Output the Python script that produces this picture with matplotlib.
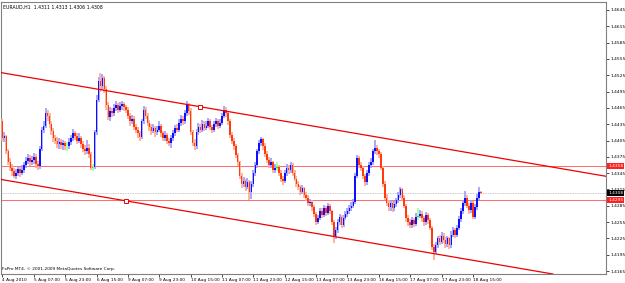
import matplotlib
matplotlib.use("Agg")
import matplotlib.pyplot as plt
import matplotlib.transforms as mtransforms
import numpy as np

# ---------------- data (EURAUD H1) ----------------
first_open = 1.4440
closes = [
    1.4410, 1.4413, 1.4385, 1.4365, 1.4355, 1.4348, 1.4340, 1.4345, 1.4352, 1.4346,
    1.4350, 1.4360, 1.4368, 1.4372, 1.4365, 1.4370, 1.4375, 1.4362, 1.4358, 1.4390,
    1.4425, 1.4432, 1.4455, 1.4450, 1.4435, 1.4422, 1.4410, 1.4405, 1.4398, 1.4402,
    1.4396, 1.4400, 1.4394, 1.4395, 1.4402, 1.4410, 1.4418, 1.4413, 1.4405, 1.4410,
    1.4398, 1.4390, 1.4385, 1.4392, 1.4380, 1.4355, 1.4356, 1.4420, 1.4480, 1.4515,
    1.4505, 1.4520, 1.4500, 1.4470, 1.4448, 1.4460, 1.4455, 1.4465, 1.4470, 1.4462,
    1.4468, 1.4472, 1.4466, 1.4462, 1.4450, 1.4440, 1.4445, 1.4430, 1.4425, 1.4418,
    1.4412, 1.4440, 1.4462, 1.4450, 1.4438, 1.4430, 1.4422, 1.4428, 1.4420, 1.4425,
    1.4432, 1.4418, 1.4410, 1.4415, 1.4405, 1.4400, 1.4410, 1.4418, 1.4428, 1.4425,
    1.4438, 1.4445, 1.4440, 1.4455, 1.4470, 1.4460, 1.4420, 1.4400, 1.4395, 1.4420,
    1.4430, 1.4425, 1.4436, 1.4428, 1.4432, 1.4440, 1.4430, 1.4425, 1.4435, 1.4440,
    1.4432, 1.4438, 1.4450, 1.4462, 1.4455, 1.4440, 1.4415, 1.4405, 1.4395, 1.4378,
    1.4365, 1.4340, 1.4325, 1.4330, 1.4320, 1.4328, 1.4310, 1.4325, 1.4345, 1.4360,
    1.4385, 1.4400, 1.4408, 1.4395, 1.4380, 1.4370, 1.4360, 1.4365, 1.4350, 1.4355,
    1.4356, 1.4345, 1.4335, 1.4330, 1.4345, 1.4355, 1.4350, 1.4360, 1.4345, 1.4335,
    1.4325, 1.4320, 1.4310, 1.4318, 1.4305, 1.4300, 1.4290, 1.4292, 1.4282, 1.4270,
    1.4255, 1.4262, 1.4275, 1.4268, 1.4280, 1.4272, 1.4285, 1.4275, 1.4255, 1.4230,
    1.4240, 1.4255, 1.4265, 1.4250, 1.4262, 1.4270, 1.4275, 1.4280, 1.4285, 1.4292,
    1.4340, 1.4372, 1.4360, 1.4355, 1.4340, 1.4328, 1.4345, 1.4360, 1.4365, 1.4385,
    1.4392, 1.4385, 1.4380, 1.4355, 1.4325, 1.4300, 1.4290, 1.4282, 1.4290, 1.4280,
    1.4288, 1.4295, 1.4305, 1.4315, 1.4300, 1.4285, 1.4262, 1.4255, 1.4250, 1.4258,
    1.4252, 1.4265, 1.4266, 1.4270, 1.4262, 1.4255, 1.4268, 1.4258, 1.4245, 1.4210,
    1.4200, 1.4212, 1.4225, 1.4218, 1.4230, 1.4222, 1.4215, 1.4225, 1.4212, 1.4232,
    1.4240, 1.4232, 1.4245, 1.4260, 1.4275, 1.4290, 1.4300, 1.4285, 1.4278, 1.4290,
    1.4265, 1.4282, 1.4300, 1.4311, 1.4308,
]
highs = [
    1.4445, 1.4420, 1.4416, 1.4390, 1.4372, 1.4362, 1.4355, 1.4352, 1.4358, 1.4356,
    1.4360, 1.4366, 1.4375, 1.4380, 1.4378, 1.4376, 1.4382, 1.4380, 1.4368, 1.4395,
    1.4430, 1.4440, 1.4465, 1.4462, 1.4455, 1.4440, 1.4428, 1.4415, 1.4412, 1.4410,
    1.4408, 1.4406, 1.4405, 1.4402, 1.4410, 1.4416, 1.4426, 1.4422, 1.4418, 1.4418,
    1.4414, 1.4404, 1.4396, 1.4406, 1.4398, 1.4384, 1.4362, 1.4425, 1.4488, 1.4522,
    1.4530, 1.4528, 1.4524, 1.4505, 1.4475, 1.4466, 1.4465, 1.4472, 1.4478, 1.4474,
    1.4475, 1.4478, 1.4476, 1.4470, 1.4466, 1.4455, 1.4452, 1.4450, 1.4436, 1.4430,
    1.4422, 1.4445, 1.4468, 1.4466, 1.4455, 1.4442, 1.4435, 1.4436, 1.4432, 1.4432,
    1.4440, 1.4436, 1.4422, 1.4422, 1.4418, 1.4410, 1.4415, 1.4424, 1.4434, 1.4435,
    1.4444, 1.4452, 1.4450, 1.4462, 1.4478, 1.4474, 1.4464, 1.4425, 1.4408, 1.4426,
    1.4438, 1.4436, 1.4442, 1.4440, 1.4440, 1.4446, 1.4444, 1.4434, 1.4440, 1.4446,
    1.4444, 1.4444, 1.4456, 1.4468, 1.4466, 1.4458, 1.4444, 1.4420, 1.4410, 1.4398,
    1.4382, 1.4368, 1.4345, 1.4338, 1.4335, 1.4336, 1.4332, 1.4330, 1.4350, 1.4366,
    1.4390, 1.4406, 1.4412, 1.4410, 1.4400, 1.4386, 1.4375, 1.4372, 1.4368, 1.4362,
    1.4365, 1.4360, 1.4350, 1.4340, 1.4350, 1.4362, 1.4360, 1.4366, 1.4364, 1.4350,
    1.4340, 1.4330, 1.4324, 1.4324, 1.4320, 1.4310, 1.4304, 1.4298, 1.4296, 1.4286,
    1.4274, 1.4268, 1.4280, 1.4280, 1.4286, 1.4284, 1.4290, 1.4288, 1.4278, 1.4258,
    1.4246, 1.4260, 1.4270, 1.4268, 1.4268, 1.4276, 1.4280, 1.4286, 1.4292, 1.4298,
    1.4345, 1.4378, 1.4376, 1.4365, 1.4358, 1.4344, 1.4350, 1.4366, 1.4372, 1.4390,
    1.4406, 1.4396, 1.4390, 1.4384, 1.4358, 1.4330, 1.4306, 1.4296, 1.4296, 1.4294,
    1.4294, 1.4300, 1.4310, 1.4320, 1.4318, 1.4304, 1.4288, 1.4268, 1.4260, 1.4264,
    1.4262, 1.4272, 1.4280, 1.4278, 1.4275, 1.4266, 1.4274, 1.4272, 1.4262, 1.4248,
    1.4215, 1.4218, 1.4230, 1.4232, 1.4236, 1.4235, 1.4228, 1.4230, 1.4228, 1.4238,
    1.4246, 1.4244, 1.4250, 1.4266, 1.4280, 1.4296, 1.4312, 1.4305, 1.4290, 1.4295,
    1.4294, 1.4288, 1.4306, 1.4320, 1.4313,
]
lows = [
    1.4405, 1.4402, 1.4380, 1.4360, 1.4348, 1.4340, 1.4336, 1.4335, 1.4340, 1.4338,
    1.4342, 1.4345, 1.4355, 1.4362, 1.4358, 1.4360, 1.4362, 1.4355, 1.4350, 1.4352,
    1.4385, 1.4418, 1.4428, 1.4440, 1.4428, 1.4415, 1.4402, 1.4398, 1.4392, 1.4390,
    1.4390, 1.4388, 1.4387, 1.4385, 1.4390, 1.4396, 1.4405, 1.4406, 1.4398, 1.4400,
    1.4392, 1.4383, 1.4378, 1.4380, 1.4372, 1.4350, 1.4348, 1.4352, 1.4415, 1.4475,
    1.4495, 1.4498, 1.4492, 1.4462, 1.4442, 1.4440, 1.4448, 1.4450, 1.4460, 1.4456,
    1.4458, 1.4462, 1.4460, 1.4455, 1.4445, 1.4432, 1.4435, 1.4424, 1.4418, 1.4410,
    1.4405, 1.4408, 1.4435, 1.4444, 1.4432, 1.4422, 1.4415, 1.4418, 1.4412, 1.4415,
    1.4420, 1.4412, 1.4404, 1.4405, 1.4398, 1.4394, 1.4392, 1.4405, 1.4414, 1.4420,
    1.4420, 1.4432, 1.4434, 1.4436, 1.4450, 1.4452, 1.4415, 1.4394, 1.4387, 1.4390,
    1.4415, 1.4418, 1.4420, 1.4422, 1.4424, 1.4428, 1.4424, 1.4418, 1.4420, 1.4430,
    1.4426, 1.4428, 1.4434, 1.4446, 1.4448, 1.4434, 1.4410, 1.4398, 1.4388, 1.4372,
    1.4358, 1.4335, 1.4318, 1.4320, 1.4312, 1.4315, 1.4296, 1.4298, 1.4320, 1.4340,
    1.4355, 1.4380, 1.4395, 1.4388, 1.4375, 1.4364, 1.4355, 1.4355, 1.4345, 1.4345,
    1.4348, 1.4340, 1.4328, 1.4324, 1.4326, 1.4340, 1.4344, 1.4346, 1.4340, 1.4330,
    1.4320, 1.4314, 1.4305, 1.4306, 1.4300, 1.4294, 1.4284, 1.4285, 1.4276, 1.4264,
    1.4250, 1.4252, 1.4258, 1.4262, 1.4264, 1.4266, 1.4268, 1.4270, 1.4250, 1.4217,
    1.4224, 1.4235, 1.4250, 1.4245, 1.4246, 1.4258, 1.4264, 1.4270, 1.4276, 1.4280,
    1.4288, 1.4336, 1.4354, 1.4348, 1.4334, 1.4322, 1.4324, 1.4340, 1.4355, 1.4360,
    1.4380, 1.4378, 1.4372, 1.4350, 1.4320, 1.4295, 1.4284, 1.4276, 1.4276, 1.4274,
    1.4275, 1.4282, 1.4290, 1.4300, 1.4294, 1.4280, 1.4256, 1.4248, 1.4244, 1.4245,
    1.4246, 1.4248, 1.4258, 1.4262, 1.4255, 1.4248, 1.4250, 1.4252, 1.4240, 1.4204,
    1.4185, 1.4196, 1.4208, 1.4212, 1.4214, 1.4216, 1.4208, 1.4210, 1.4206, 1.4208,
    1.4228, 1.4226, 1.4228, 1.4240, 1.4255, 1.4270, 1.4284, 1.4280, 1.4270, 1.4272,
    1.4260, 1.4260, 1.4278, 1.4296, 1.4306,
]

x_tick_labels = ["4 Aug 2010", "5 Aug 07:00", "5 Aug 23:00", "6 Aug 15:00",
                 "9 Aug 07:00", "9 Aug 23:00", "10 Aug 15:00", "11 Aug 07:00",
                 "11 Aug 23:00", "12 Aug 15:00", "13 Aug 07:00", "13 Aug 23:00",
                 "16 Aug 15:00", "17 Aug 07:00", "17 Aug 23:00", "18 Aug 15:00"]
bars_per_label = 16
y_tick_values = [1.4165, 1.4195, 1.4225, 1.4255, 1.4285, 1.4315, 1.4345, 1.4375,
                 1.4405, 1.4435, 1.4465, 1.4495, 1.4525, 1.4555, 1.4585, 1.4615, 1.4645]

# channel anchors (bar index, price)
upper_bar = [-1, 101]
upper_price = [1.4530, 1.4467]
lower_anchor_bar = 63
lower_anchor_price = 1.4294
h_levels = [1.4358, 1.4295]
bid_price = 1.4308
header = "EURAUD,H1  1.4311 1.4313 1.4306 1.4308"
copyright_text = "FxPro MT4, \u00a9 2001-2009 MetaQuotes Software Corp."

# ---------------- figure ----------------
W, H = 625, 283
fig = plt.figure(figsize=(W / 100, H / 100), dpi=100, facecolor="white")
ax = fig.add_axes([1 / W, 9 / H, 605 / W, 272 / H], facecolor="white")

n = len(closes)
x = np.arange(n)
o = np.array([first_open] + closes[:-1])
c = np.array(closes)
hi = np.array(highs)
lo = np.array(lows)

bull_body, bear_body, doji_body = "#0f0fff", "#ff3a10", "#22dd22"
bull_wick, bear_wick, doji_wick = "#9a9aff", "#ffa888", "#99ff99"
body_col, wick_col = [], []
for oo, cc in zip(o, c):
    if abs(cc - oo) < 0.00015:
        body_col.append(doji_body); wick_col.append(doji_wick)
    elif cc > oo:
        body_col.append(bull_body); wick_col.append(bull_wick)
    else:
        body_col.append(bear_body); wick_col.append(bear_wick)

ax.vlines(x, lo, hi, colors=wick_col, linewidth=1.2, zorder=3)
bottoms = np.minimum(o, c)
heights = np.maximum(np.abs(c - o), 0.00008)
ax.bar(x, heights, bottom=bottoms, width=0.82, color=body_col, linewidth=0, zorder=4)

# horizontal levels and bid line
for lv in h_levels:
    ax.axhline(lv, color="#ff6a6a", linewidth=0.7, zorder=2)
ax.axhline(bid_price, color="#b8b8b8", linewidth=0.6, linestyle=(0, (1, 1)), zorder=2)

# channel
slope = (upper_price[1] - upper_price[0]) / (upper_bar[1] - upper_bar[0])
ax.axline((upper_bar[0], upper_price[0]), (upper_bar[1], upper_price[1]),
          color="#ee0000", linewidth=0.9, zorder=5)
ax.axline((lower_anchor_bar, lower_anchor_price),
          (lower_anchor_bar + 100, lower_anchor_price + 100 * slope),
          color="#ee0000", linewidth=0.9, zorder=5)
ax.plot([upper_bar[1], lower_anchor_bar], [upper_price[1], lower_anchor_price],
        linestyle="none", marker="s", markersize=2.6, markerfacecolor="white",
        markeredgecolor="#ee0000", markeredgewidth=0.7, zorder=6)

ax.set_xlim(-0.75, 307.9)
ax.set_ylim(1.41595, 1.46597)

# axes styling
for side in ["left", "top", "right", "bottom"]:
    ax.spines[side].set_color("#808080")
    ax.spines[side].set_linewidth(0.8)

ticks_x = [i * bars_per_label for i in range(len(x_tick_labels))]
ax.set_xticks(ticks_x)
ax.set_xticklabels(x_tick_labels, fontsize=3.1, ha="left")
offset = mtransforms.ScaledTranslation(-2 / 100, 0, fig.dpi_scale_trans)
for lab in ax.get_xticklabels():
    lab.set_transform(lab.get_transform() + offset)
ax.tick_params(axis="x", length=2, width=0.5, pad=1, colors="#000000")

ax.yaxis.tick_right()
ax.set_yticks(y_tick_values)
ax.set_yticklabels([f"{v:.4f}" for v in y_tick_values], fontsize=3.2)
ax.tick_params(axis="y", length=2, width=0.5, pad=1, colors="#000000")

# price boxes
for price, fc in [(h_levels[0], "#ff2020"), (bid_price, "#000000"), (h_levels[1], "#ff2020")]:
    ax.annotate(f"{price:.4f}", xy=(1.0, price), xycoords=("axes fraction", "data"),
                xytext=(1.5, 0), textcoords="offset points", fontsize=3.2,
                color="white", va="center", ha="left", zorder=10, annotation_clip=False,
                bbox=dict(boxstyle="square,pad=0.25", fc=fc, ec="none"))

ax.text(0.004, 0.99, header, transform=ax.transAxes, fontsize=3.3, va="top", ha="left")
ax.text(0.002, 0.012, copyright_text, transform=ax.transAxes, fontsize=3.1,
        va="bottom", ha="left", color="#000000")

fig.savefig("out.png", dpi=100, facecolor="white")
